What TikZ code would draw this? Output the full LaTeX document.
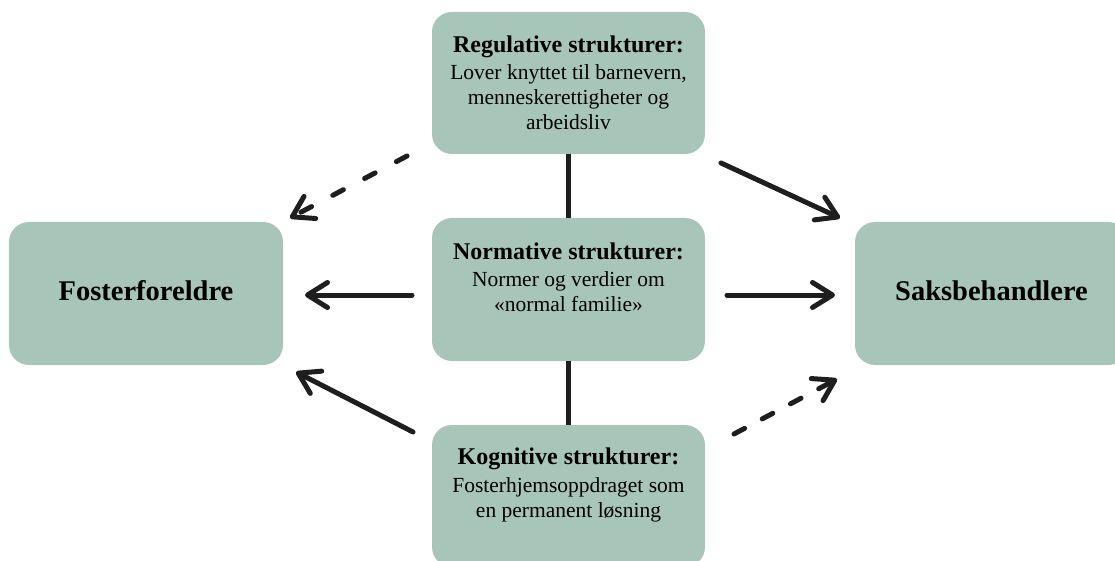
\documentclass[tikz,border=0pt]{standalone}
\usepackage{fontspec}
\setmainfont{Liberation Serif}
\usetikzlibrary{arrows.meta}
\definecolor{boxgreen}{RGB}{168,197,185}
\definecolor{ink}{RGB}{30,30,30}
\newcommand{\ttlfont}{\fontsize{24}{25}\selectfont\bfseries}
\begin{document}
\begin{tikzpicture}[x=1pt,y=-1pt,
  box/.style={fill=boxgreen, rounded corners=20pt, minimum width=273pt, minimum height=142pt, inner sep=0pt, draw=none},
  boxtext/.style={anchor=north, align=center, inner sep=0pt, font=\fontsize{21.5}{25}\selectfont},
  bigtext/.style={font=\fontsize{28.5}{34}\selectfont\bfseries},
  arr/.style={draw=ink, line width=5pt, line cap=round, line join=round, -{Straight Barb[length=20pt,width=25pt,line cap=round,line join=round]}},
  dasharr/.style={arr, dash pattern=on 12pt off #1},
  link/.style={draw=ink, line width=5pt}
]
\useasboundingbox (0,0) rectangle (1115,561);
\clip (0,0) rectangle (1115,561);

% boxes
\node[box] (reg) at (568.5,83) {};
\node[box, minimum height=143pt] (norm) at (568.5,289.5) {};
\node[box] (kog) at (568.5,496) {};
\node[box, minimum width=274pt, minimum height=143pt] (fost) at (146,293.5) {};
\node[box, minimum height=143pt] (saks) at (991.5,293.5) {};

% labels of the side boxes
\node[bigtext, inner sep=0pt] (fostT) at ([yshift=3pt]fost.center) {Fosterforeldre};
\node[bigtext, inner sep=0pt] (saksT) at ([yshift=3pt]saks.center) {Saksbehandlere};

% texts in the middle boxes
\node[boxtext] (regT) at ([yshift=-24pt]reg.north) {{\ttlfont Regulative strukturer:}\\[2pt]Lover knyttet til barnevern,\\menneskerettigheter og\\arbeidsliv};
\node[boxtext] (normT) at ([yshift=-25pt]norm.north) {{\ttlfont Normative strukturer:}\\[2pt]Normer og verdier om\\«normal familie»};
\node[boxtext] (kogT) at ([yshift=-23pt]kog.north) {{\ttlfont Kognitive strukturer:}\\[3pt]Fosterhjemsoppdraget som\\en permanent løsning};

% vertical links
\draw[link] (reg.south) -- (norm.north);
\draw[link] (norm.south) -- (kog.north);

% arrow end points
\coordinate (a1s) at (407,156);
\coordinate (a1e) at (290,218);
\coordinate (a2s) at (721,163);
\coordinate (a2e) at (840,218);
\coordinate (a3s) at (412,295);
\coordinate (a3e) at (305,295);
\coordinate (a4s) at (727,295);
\coordinate (a4e) at (835,295);
\coordinate (a5s) at (413,432);
\coordinate (a5e) at (296,372);
\coordinate (a6s) at (734,434);
\coordinate (a6e) at (837,379);

\draw[dasharr=24pt] (a1s) -- (a1e);
\draw[arr] (a2s) -- (a2e);
\draw[arr] (a3s) -- (a3e);
\draw[arr] (a4s) -- (a4e);
\draw[arr] (a5s) -- (a5e);
\draw[dasharr=20pt] (a6s) -- (a6e);
\end{tikzpicture}
\end{document}
